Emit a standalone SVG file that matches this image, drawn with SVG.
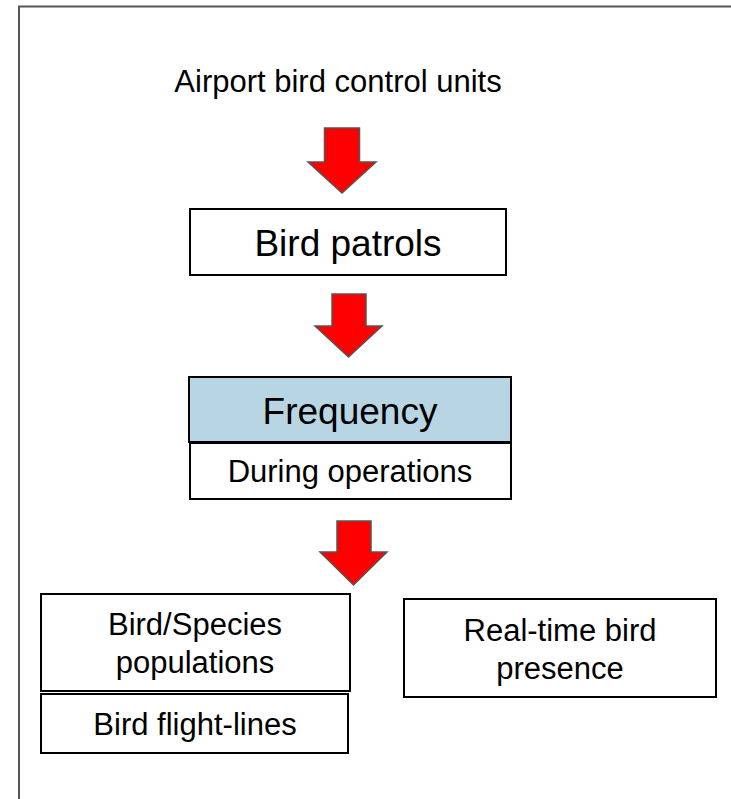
<svg xmlns="http://www.w3.org/2000/svg" width="731" height="799" viewBox="0 0 731 799">
<style>
.box{fill:#fff;stroke:#000;stroke-width:2}
.blue{fill:#B8D5E4;stroke:#000;stroke-width:2}
.t{font-family:"Liberation Sans",Arial,sans-serif;fill:#000;text-anchor:middle}
.arrow{fill:#FF0000;stroke:#555;stroke-width:1.5;stroke-linejoin:miter}
</style>
<rect width="731" height="799" fill="#fff"/>
<path d="M19,799 V6.5 H731" fill="none" stroke="#555" stroke-width="2"/>
<g id="n-airport"><text class="t" x="338" y="92" font-size="31">Airport bird control units</text></g>
<g id="n-patrols"><rect class="box" x="190" y="209" width="316" height="66"/><text class="t" x="348" y="256" font-size="37">Bird patrols</text></g>
<g id="n-frequency"><rect class="blue" x="189" y="377" width="322" height="65"/><text class="t" x="350" y="424" font-size="37">Frequency</text></g>
<g id="n-during"><rect class="box" x="190" y="443" width="321" height="56"/><text class="t" x="350" y="482" font-size="31">During operations</text></g>
<g id="n-species"><rect class="box" x="41" y="594" width="309" height="97"/><text class="t" x="195" y="635" font-size="31">Bird/Species</text><text class="t" x="195" y="673" font-size="31">populations</text></g>
<g id="n-flight"><rect class="box" x="41" y="694" width="307" height="59"/><text class="t" x="195" y="735" font-size="31">Bird flight-lines</text></g>
<g id="n-realtime"><rect class="box" x="404" y="599" width="312" height="98"/><text class="t" x="560" y="641" font-size="31">Real-time bird</text><text class="t" x="560" y="679" font-size="31">presence</text></g>
<g id="connectors">
<path class="arrow" d="M324.5,128 H359.5 V162 H376 L342,193 L308,162 H324.5 Z"/>
<path class="arrow" d="M332,294 H366 V326 H382 L348.5,357 L315,326 H332 Z"/>
<path class="arrow" d="M337,521 H371 V552 H387 L353.5,585 L320,552 H337 Z"/>
</g>
</svg>
